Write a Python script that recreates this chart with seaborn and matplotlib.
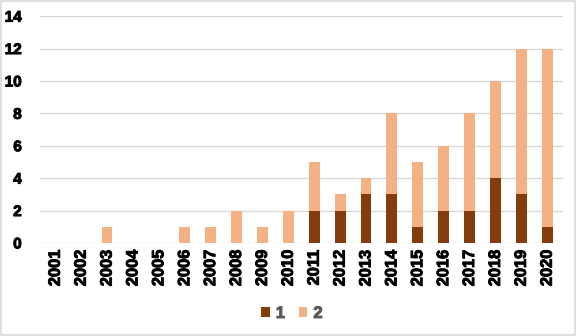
import matplotlib
matplotlib.use("Agg")
import matplotlib.pyplot as plt
import matplotlib.patheffects as pe
import seaborn as sns
import pandas as pd
from matplotlib.patches import Patch, Rectangle

years = [str(y) for y in range(2001, 2021)]
series_1 = [0, 0, 0, 0, 0, 0, 0, 0, 0, 0, 2, 2, 3, 3, 1, 2, 2, 4, 3, 1]
series_2 = [0, 0, 1, 0, 0, 1, 1, 2, 1, 2, 3, 1, 1, 5, 4, 4, 6, 6, 9, 11]
yticks = [0, 2, 4, 6, 8, 10, 12, 14]
labels = ["1", "2"]
colors = ["#843C0C", "#F4B183"]

df = pd.DataFrame({"year": years, "s1": series_1, "s2": series_2})
df["total"] = df["s1"] + df["s2"]

sns.set_theme(style="white")
plt.rcParams["font.family"] = ["Liberation Sans", "DejaVu Sans"]
plt.rcParams["font.weight"] = "bold"

fig = plt.figure(figsize=(5.76, 3.36), dpi=100)
ax = fig.add_axes([0.069, 0.277, 0.908, 0.675])

# stacked bars: full height in the light colour, series 1 drawn over its base
sns.barplot(data=df, x="year", y="total", color=colors[1], width=0.42,
            saturation=1, linewidth=0, edgecolor="none", ax=ax, zorder=3)
sns.barplot(data=df, x="year", y="s1", color=colors[0], width=0.42,
            saturation=1, linewidth=0, edgecolor="none", ax=ax, zorder=4)

ax.set_ylim(0, 14)
ax.set_xlim(-0.6, 19.6)
ax.yaxis.grid(True, color="#d9d9d9", linewidth=1)
ax.set_axisbelow(True)
for s in ax.spines.values():
    s.set_visible(False)
ax.set_xlabel("")
ax.set_ylabel("")
ax.tick_params(axis="both", length=0, labelcolor="black")
ax.tick_params(axis="y", pad=13)
ax.tick_params(axis="x", pad=5)

heavy = [pe.withStroke(linewidth=0.7, foreground="black")]
ax.set_yticks(yticks, [str(v) for v in yticks], fontweight="bold", fontsize=11,
              path_effects=heavy)
ax.set_xticks(range(len(years)), years, fontweight="bold", fontsize=11.8,
              rotation=90, path_effects=heavy)

handles = [Patch(facecolor=c, edgecolor="none") for c in colors]
leg = fig.legend(handles, labels, loc="center", bbox_to_anchor=(0.507, 0.067),
                 ncol=2, frameon=False, handlelength=0.5, handleheight=0.5,
                 handletextpad=0.36, columnspacing=0.84,
                 prop={"weight": "bold", "size": 12})
for t in leg.get_texts():
    t.set_color("#595959")
    t.set_path_effects([pe.withStroke(linewidth=0.7, foreground="#595959")])

fig.patches.append(Rectangle((0.002, 0.003), 0.996, 0.994, transform=fig.transFigure,
                             fill=False, edgecolor="#d9d9d9", linewidth=1.2))

fig.savefig("out.png", dpi=100)
